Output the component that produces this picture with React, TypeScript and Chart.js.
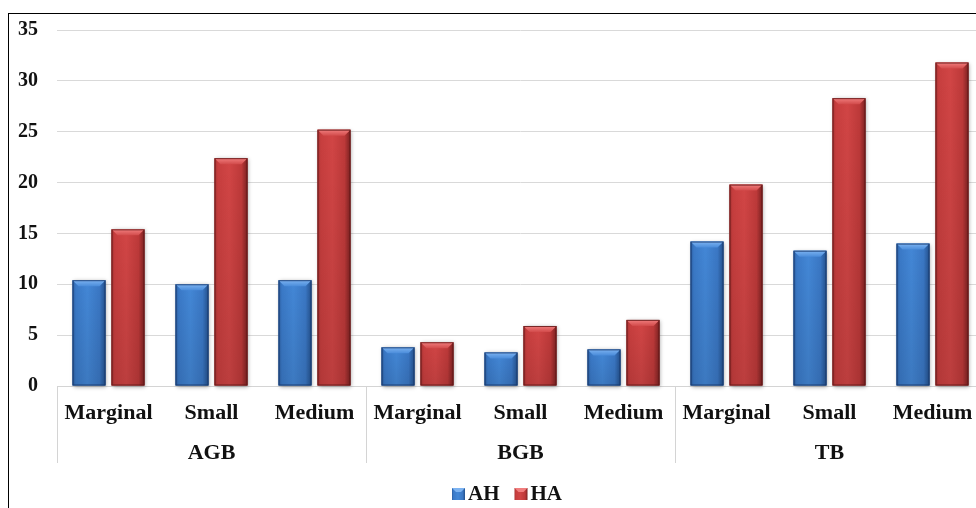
import React, { useEffect, useRef } from "react";
import { Chart, registerables } from "chart.js";

Chart.register(...registerables);

// Biomass components and farm-size classes
const groups = ["AGB", "BGB", "TB"];
const sizes = ["Marginal", "Small", "Medium"];
const categories = groups.flatMap(() => sizes);

// Series values (one per category, in order)
const seriesNames = ["AH", "HA"];
const ahValues = [10.4, 10.0, 10.4, 3.8, 3.3, 3.6, 14.2, 13.3, 14.0];
const haValues = [15.4, 22.4, 25.2, 4.3, 5.9, 6.5, 19.8, 28.3, 31.8];

// Value axis
const yMin = 0;
const yMax = 35;
const yStep = 5;

const FONT = "'Times New Roman', 'Liberation Serif', serif";

type Shade = { stops: [number, string][]; bevelTop: string; bevelBottom: string; edge: string; flat: string };

const shades: Shade[] = [
  {
    stops: [
      [0, "#2b5d9f"],
      [0.1, "#3a79c7"],
      [0.45, "#4387d6"],
      [0.82, "#3a77c4"],
      [1, "#23508c"],
    ],
    bevelTop: "#7db3f1",
    bevelBottom: "#4a8cda",
    edge: "rgba(20,50,100,0.8)",
    flat: "#3d7dcc",
  },
  {
    stops: [
      [0, "#a53131"],
      [0.1, "#c73e3e"],
      [0.45, "#d14545"],
      [0.82, "#bd3939"],
      [1, "#7b2121"],
    ],
    bevelTop: "#f17e7e",
    bevelBottom: "#d24b4b",
    edge: "rgba(90,20,20,0.8)",
    flat: "#c63e3e",
  },
];

const shadedBars = {
  id: "shadedBars",
  afterDatasetsDraw(chart: any) {
    const ctx: CanvasRenderingContext2D = chart.ctx;
    chart.data.datasets.forEach((_: any, di: number) => {
      const meta = chart.getDatasetMeta(di);
      const s = shades[di];
      meta.data.forEach((el: any) => {
        const { x, y, base, width } = el.getProps(["x", "y", "base", "width"], true);
        const L = x - width / 2;
        const R = x + width / 2;
        const top = Math.min(y, base);
        const h = Math.abs(base - y);
        ctx.save();
        // soft drop shadow
        ctx.shadowColor = "rgba(0,0,0,0.35)";
        ctx.shadowBlur = 4;
        ctx.shadowOffsetX = 1;
        ctx.shadowOffsetY = 1;
        const g = ctx.createLinearGradient(L, 0, R, 0);
        s.stops.forEach(([p, c]) => g.addColorStop(p, c));
        ctx.fillStyle = g;
        ctx.fillRect(L, top, width, h);
        ctx.shadowColor = "transparent";
        // gentle darkening towards the base
        const vg = ctx.createLinearGradient(0, top, 0, top + h);
        vg.addColorStop(0, "rgba(0,0,0,0)");
        vg.addColorStop(1, "rgba(0,0,0,0.1)");
        ctx.fillStyle = vg;
        ctx.fillRect(L, top, width, h);
        // top bevel
        const bv = Math.min(6, h / 2);
        const bg = ctx.createLinearGradient(0, top, 0, top + bv);
        bg.addColorStop(0, s.bevelTop);
        bg.addColorStop(1, s.bevelBottom);
        ctx.fillStyle = bg;
        ctx.beginPath();
        ctx.moveTo(L, top);
        ctx.lineTo(R, top);
        ctx.lineTo(R - bv, top + bv);
        ctx.lineTo(L + bv, top + bv);
        ctx.closePath();
        ctx.fill();
        // outline
        ctx.strokeStyle = s.edge;
        ctx.lineWidth = 1;
        ctx.strokeRect(L + 0.5, top + 0.5, width - 1, h - 1);
        ctx.restore();
      });
    });
  },
};

const groupAxis = {
  id: "groupAxis",
  afterDraw(chart: any) {
    const ctx: CanvasRenderingContext2D = chart.ctx;
    const xs = chart.scales.x;
    const area = chart.chartArea;
    const catW = (area.right - area.left) / categories.length;
    ctx.save();
    // separators between groups
    ctx.strokeStyle = "#d4d4d4";
    ctx.lineWidth = 1;
    for (let i = 0; i <= categories.length; i += sizes.length) {
      const px = Math.round(xs.getPixelForValue(i) - catW / 2) + 0.5;
      ctx.beginPath();
      ctx.moveTo(px, area.bottom);
      ctx.lineTo(px, area.bottom + 77);
      ctx.stroke();
    }
    // group names
    ctx.fillStyle = "#111";
    ctx.font = `bold 22px ${FONT}`;
    ctx.textAlign = "center";
    ctx.textBaseline = "middle";
    groups.forEach((g, gi) => {
      const mid = xs.getPixelForValue(gi * sizes.length + 1);
      ctx.fillText(g, mid, area.bottom + 67);
    });
    ctx.restore();
  },
};

const bevelLegend = {
  id: "bevelLegend",
  afterDraw(chart: any) {
    const ctx: CanvasRenderingContext2D = chart.ctx;
    ctx.save();
    ctx.font = `bold 21px ${FONT}`;
    ctx.textBaseline = "middle";
    ctx.textAlign = "left";
    const box = 13;
    const gap = 3;
    const spacing = 15;
    const labels = chart.data.datasets.map((d: any) => d.label as string);
    const widths = labels.map((t: string) => box + gap + ctx.measureText(t).width);
    const total = widths.reduce((a: number, b: number) => a + b, 0) + spacing * (labels.length - 1);
    let cx = chart.width / 2 - total / 2;
    const cy = chart.height - 14;
    labels.forEach((t: string, i: number) => {
      const s = shades[i];
      const g = ctx.createLinearGradient(cx, 0, cx + box, 0);
      s.stops.forEach(([p, c]) => g.addColorStop(p, c));
      ctx.fillStyle = g;
      ctx.fillRect(cx, cy - 6, box, 12);
      ctx.fillStyle = s.bevelTop;
      ctx.beginPath();
      ctx.moveTo(cx, cy - 6);
      ctx.lineTo(cx + box, cy - 6);
      ctx.lineTo(cx + box - 4, cy - 2);
      ctx.lineTo(cx + 4, cy - 2);
      ctx.closePath();
      ctx.fill();
      ctx.fillStyle = "#111";
      ctx.fillText(t, cx + box + gap, cy + 1);
      cx += widths[i] + spacing;
    });
    ctx.restore();
  },
};

export default function App() {
  const ref = useRef<HTMLCanvasElement>(null);

  useEffect(() => {
    if (!ref.current) return;
    const chart = new Chart(ref.current, {
      type: "bar",
      data: {
        labels: categories,
        datasets: [
          { label: seriesNames[0], data: ahValues, backgroundColor: shades[0].flat, borderWidth: 0 },
          { label: seriesNames[1], data: haValues, backgroundColor: shades[1].flat, borderWidth: 0 },
        ],
      },
      options: {
        responsive: false,
        animation: false,
        devicePixelRatio: 1,
        categoryPercentage: 0.757,
        barPercentage: 0.846,
        layout: { padding: { top: 16, right: 21, left: 0, bottom: 22 } },
        plugins: {
          legend: { display: false },
          tooltip: { enabled: false },
        },
        scales: {
          x: {
            grid: { display: false, drawTicks: false },
            border: { display: true, color: "#d4d4d4" },
            ticks: {
              color: "#111",
              padding: 14,
              maxRotation: 0,
              autoSkip: false,
              font: { family: FONT, size: 22, weight: "bold" },
            },
            afterFit: (scale: any) => {
              scale.height = 100;
            },
          },
          y: {
            min: yMin,
            max: yMax,
            grid: { color: "#d9d9d9", drawTicks: false },
            border: { display: false },
            ticks: {
              stepSize: yStep,
              color: "#111",
              padding: 19,
              font: { family: FONT, size: 20, weight: "bold" },
            },
            afterFit: (scale: any) => {
              scale.width = 48;
              scale.paddingTop = 0;
              scale.paddingBottom = 0;
            },
          },
        },
      },
      plugins: [shadedBars, groupAxis, bevelLegend],
    });
    return () => chart.destroy();
  }, []);

  return (
    <div style={{ position: "absolute", left: 0, top: 0, width: 976, height: 508, overflow: "hidden", background: "#fff" }}>
      <div
        style={{
          position: "absolute",
          left: 8,
          top: 13,
          width: 1000,
          height: 500,
          borderLeft: "1px solid #000",
          borderTop: "1px solid #000",
        }}
      >
        <canvas ref={ref} width={996} height={494} style={{ position: "absolute", left: 0, top: 0 }} />
      </div>
    </div>
  );
}
